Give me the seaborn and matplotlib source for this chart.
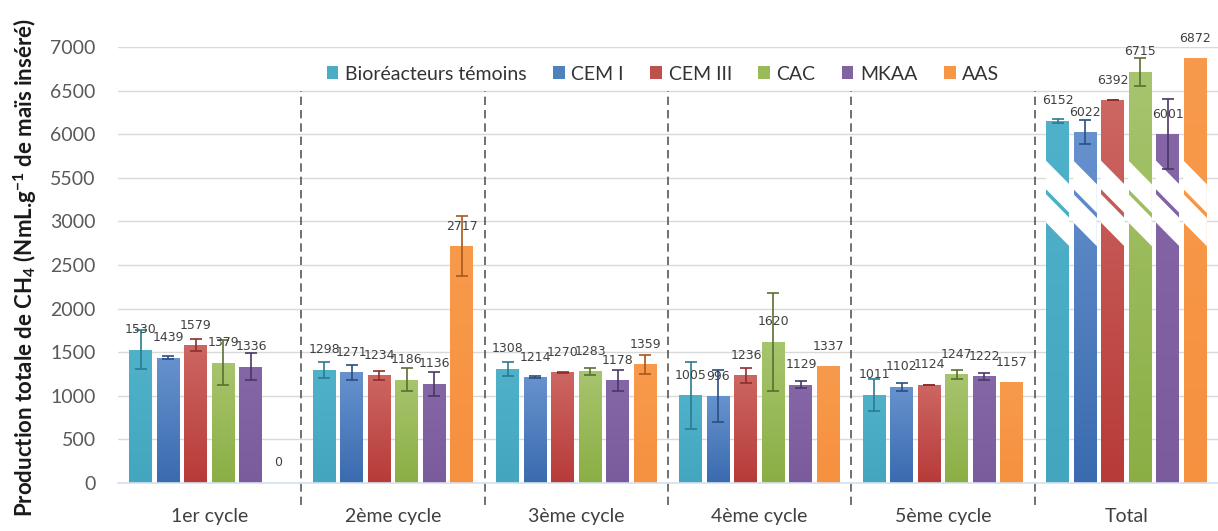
import numpy as np
import pandas as pd
import matplotlib
matplotlib.use("Agg")
import matplotlib.pyplot as plt
import seaborn as sns
from matplotlib.colors import LinearSegmentedColormap
from matplotlib.patches import Patch, Polygon

# ---------------- data ----------------
categories = ["1er cycle", "2ème cycle", "3ème cycle", "4ème cycle", "5ème cycle", "Total"]
series = ["Bioréacteurs témoins", "CEM I", "CEM III", "CAC", "MKAA", "AAS"]

temoins = [1530, 1298, 1308, 1005, 1011, 6152]
cem1 = [1439, 1271, 1214, 996, 1102, 6022]
cem3 = [1579, 1234, 1270, 1236, 1124, 6392]
cac = [1379, 1186, 1283, 1620, 1247, 6715]
mkaa = [1336, 1136, 1178, 1129, 1222, 6001]
aas = [0, 2717, 1359, 1337, 1157, 6872]

err_temoins = [225, 90, 80, 385, 185, 20]
err_cem1 = [15, 85, 15, 300, 45, 140]
err_cem3 = [70, 50, 5, 85, 5, 5]
err_cac = [260, 130, 40, 560, 50, 160]
err_mkaa = [150, 135, 120, 35, 40, 400]
err_aas = [np.nan, 340, 110, np.nan, np.nan, np.nan]

ytick_labels = ["0", "500", "1000", "1500", "2000", "2500", "3000",
                "5500", "6000", "6500", "7000"]

values = [temoins, cem1, cem3, cac, mkaa, aas]
errors = [err_temoins, err_cem1, err_cem3, err_cac, err_mkaa, err_aas]

base_colors = ["#4BACC6", "#4F81BD", "#C0504D", "#9BBB59", "#8064A2", "#F79646"]
top_colors = ["#4FB2CA", "#6792CE", "#CD6662", "#A7C56E", "#8567A8", "#F89A4C"]
bot_colors = ["#44A5BF", "#3A6BAF", "#B73B38", "#8BAE44", "#7A5C9D", "#F5913F"]
err_colors = ["#2B7B90", "#2A4F80", "#8E2E2C", "#5A7030", "#4A3766", "#A8581C"]

# broken axis: values of the "Total" group are shifted down by 2000
BREAK_SHIFT = 2000

rows = []
for s, vals in zip(series, values):
    for c, v in zip(categories, vals):
        disp = v - BREAK_SHIFT if c == "Total" else v
        rows.append({"cycle": c, "serie": s, "value": v, "display": disp})
df = pd.DataFrame(rows)

# ---------------- style ----------------
sns.set_style("white")
plt.rcParams["font.family"] = ["Lato", "DejaVu Sans"]
plt.rcParams["mathtext.fontset"] = "custom"
plt.rcParams["mathtext.rm"] = "Lato"
plt.rcParams["mathtext.bf"] = "Lato:bold"
plt.rcParams["mathtext.it"] = "Lato:italic"

fig = plt.figure(figsize=(12.18, 5.31), dpi=100)
ax = fig.add_axes([0.0969, (531 - 483) / 531, 1.0 - 0.0969, (483 - 47) / 531])

sns.barplot(data=df, x="cycle", y="display", hue="serie", order=categories,
            hue_order=series, palette=base_colors, width=0.9, gap=0.167,
            errorbar=None, ax=ax, legend=False, linewidth=0, zorder=2)

YMAX = 5000
ax.set_xlim(-0.5, 5.5)
ax.set_ylim(0, YMAX)

units_per_px = YMAX / 436.0
bar_containers = list(ax.containers)

# gradients, break marks, error bars, labels
for i, cont in enumerate(bar_containers):
    cmap = LinearSegmentedColormap.from_list("g%d" % i, [bot_colors[i], top_colors[i]])
    xs, ys, es = [], [], []
    for j, bar in enumerate(cont):
        x0 = bar.get_x()
        w = bar.get_width()
        h = bar.get_height()
        xc = x0 + w / 2
        if h > 0:
            im = ax.imshow(np.linspace(0, 1, 256).reshape(-1, 1), cmap=cmap,
                           extent=[x0, x0 + w, 0, h], origin="lower",
                           aspect="auto", zorder=2.5, interpolation="bilinear")
            im.set_clip_path(bar)
        if categories[j] == "Total":
            drop = 24 * units_per_px
            for (top_l, bot_l) in [(3700, 3372), (3315, 2990)]:
                poly = Polygon([(x0 - 0.002, top_l), (x0 + w + 0.002, top_l - drop),
                                (x0 + w + 0.002, bot_l - drop), (x0 - 0.002, bot_l)],
                               closed=True, facecolor="white", edgecolor="none",
                               zorder=3)
                ax.add_patch(poly)
        xs.append(xc)
        ys.append(h)
        es.append(errors[i][j])
        ax.annotate(str(values[i][j]), (xc, h), xytext=(0, 14.4),
                    textcoords="offset points", ha="center", va="center",
                    fontsize=9, color="#404040", family="DejaVu Sans", zorder=6,
                    annotation_clip=False)
    ax.errorbar(xs, ys, yerr=es, fmt="none", ecolor=err_colors[i],
                elinewidth=1.2, capsize=4, capthick=1.2, zorder=5)

ax.set_xlim(-0.5, 5.5)
ax.set_ylim(0, YMAX)

# y ticks
ax.set_yticks(np.arange(0, YMAX + 1, 500))
ax.set_yticklabels(ytick_labels)
ax.yaxis.grid(True, color="#D9D9D9", linewidth=1, zorder=0)
ax.set_axisbelow(True)
ax.tick_params(axis="y", length=0, pad=16, labelsize=14, labelcolor="#595959")
ax.tick_params(axis="x", length=0, pad=18, labelsize=14, labelcolor="#404040")
ax.set_xlabel("")
ax.set_ylabel("")

for side in ["top", "right", "left"]:
    ax.spines[side].set_visible(False)
ax.spines["bottom"].set_color("#D5E1F0")
ax.spines["bottom"].set_linewidth(1.2)

# dashed separators between cycles
for k in range(len(categories) - 1):
    ax.vlines(k + 0.5, -250, 4500, colors="#595959", linestyles=(0, (5, 3)),
              linewidth=1.2, clip_on=False, zorder=1)

# legend
handles = [Patch(facecolor=c, edgecolor="none") for c in base_colors]
fig.legend(handles, series, ncol=6, loc="center",
           bbox_to_anchor=(663 / 1218, (531 - 74) / 531), frameon=False,
           fontsize=14, handlelength=0.6, handleheight=0.6,
           handletextpad=0.35, columnspacing=1.35, labelcolor="#333333")

# y label
fig.text(0.021, 0.495,
         r"Production totale de CH$_{\mathbf{4}}$ (NmL.g$^{\mathbf{-1}}$ de maïs inséré)",
         rotation=90, ha="center", va="center", fontsize=16, fontweight="bold",
         color="#1a1a1a")

fig.savefig("out.png", dpi=100)
